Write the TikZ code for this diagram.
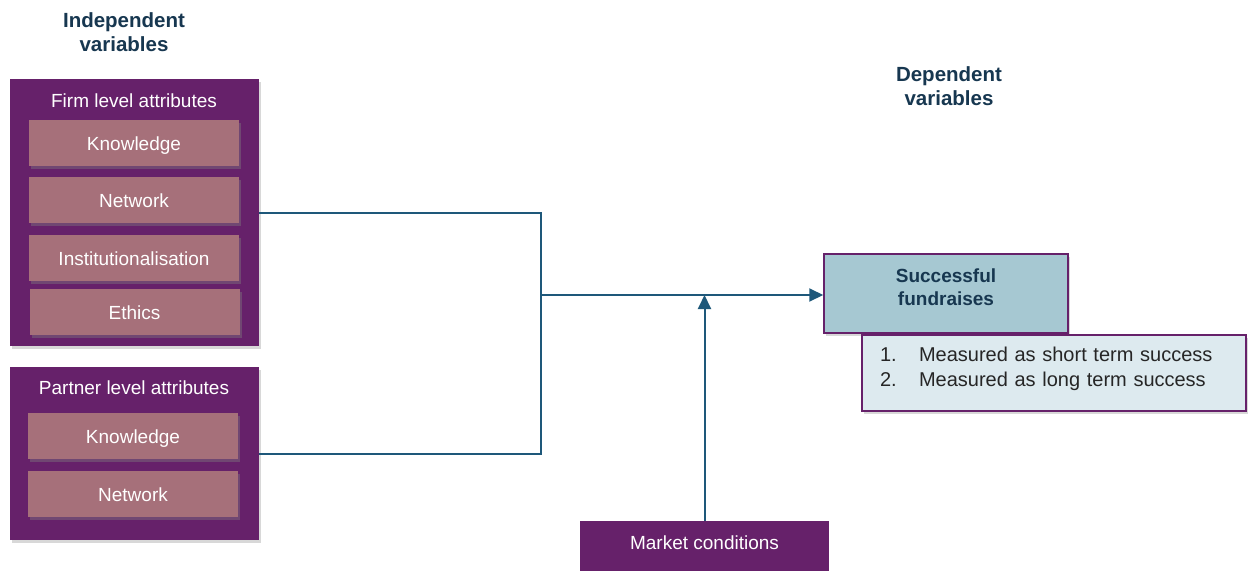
\documentclass[tikz,border=0pt]{standalone}
\usepackage{fontspec}
\setmainfont{Liberation Sans}
\usetikzlibrary{arrows.meta,shadows}
\definecolor{plum}{RGB}{102,33,106}
\definecolor{mauve}{RGB}{166,112,122}
\definecolor{wire}{RGB}{30,88,122}
\definecolor{tealfill}{RGB}{166,200,210}
\definecolor{listfill}{RGB}{221,234,239}
\definecolor{navy}{RGB}{23,55,80}
\tikzset{
  heading/.style={text=navy, font=\fontsize{20.5}{24}\selectfont\bfseries, align=center, inner sep=0pt},
  group/.style={fill=plum, draw=none, inner sep=0pt,
    drop shadow={shadow xshift=2pt, shadow yshift=-3pt, opacity=0.3}},
  item/.style={fill=mauve, draw=none, inner sep=0pt, minimum width=210pt, minimum height=46pt,
    text=white, font=\fontsize{19}{22}\selectfont, text height=15.5pt, text depth=0pt,
    drop shadow={shadow xshift=2pt, shadow yshift=-3pt, opacity=0.4}},
  grouptitle/.style={text=white, font=\fontsize{19}{22}\selectfont, inner sep=0pt},
  wireline/.style={draw=wire, line width=2pt},
  wirearrow/.style={wireline, -{Triangle[length=14pt,width=13pt]}},
}
\begin{document}
\begin{tikzpicture}[x=1pt,y=-1pt]
  \useasboundingbox (0,0) rectangle (1248,571);
  \fill[white] (0,0) rectangle (1248,571);

  % headings
  \node[heading] (indep) at (124,32) {Independent\\variables};
  \node[heading] (dep) at (949,86) {Dependent\\variables};

  % firm level group
  \node[group, minimum width=249pt, minimum height=267pt] (firm) at (134.5,212.5) {};
  \node[grouptitle] (firmtitle) at (134,101) {Firm level attributes};
  \node[item] (fknow) at (134,143) {Knowledge};
  \node[item] (fnet) at (134,200) {Network};
  \node[item] (finst) at (134,258) {Institutionalisation};
  \node[item] (feth) at (134.5,311.5) {Ethics};

  % partner level group
  \node[group, minimum width=249pt, minimum height=173pt] (partner) at (134.5,453.5) {};
  \node[grouptitle] (partnertitle) at (134,388) {Partner level attributes};
  \node[item] (pknow) at (133,436) {Knowledge};
  \node[item] (pnet) at (133,493.5) {Network};

  % outcome
  \node[fill=tealfill, draw=plum, line width=1.5pt, minimum width=244pt, minimum height=79pt,
    inner sep=0pt, text=navy, font=\fontsize{19}{23}\selectfont\bfseries, align=center,
    text depth=12pt, drop shadow={shadow xshift=2pt, shadow yshift=-3pt, opacity=0.3}]
    (succ) at (946,293.5) {Successful\\fundraises};
  \node[fill=listfill, draw=plum, line width=1.5pt, minimum width=384pt, minimum height=76pt,
    inner xsep=18pt, inner ysep=0pt, text width=348pt,
    drop shadow={shadow xshift=2pt, shadow yshift=-3pt, opacity=0.3},
    font=\fontsize{20}{25}\selectfont, text=black!85, align=left, text depth=38pt]
    (measures) at (1054,373) {\makebox[39pt][l]{1.}Measured as short term success\\
      \makebox[39pt][l]{2.}Measured as long term success};

  % moderator
  \node[fill=plum, inner sep=0pt, minimum width=249pt, minimum height=50pt,
    text=white, font=\fontsize{19}{22}\selectfont, text height=15.5pt, text depth=0pt]
    (market) at (704.5,546) {\raisebox{4pt}{Market conditions}};

  % connectors
  \coordinate (join) at (541,295);
  \draw[wireline] (firm.east) -| (join) |- (partner.east);
  \draw[wirearrow] (join) -- (succ.west |- join);
  \draw[wirearrow] (market.north) -- (market.north |- join);
\end{tikzpicture}
\end{document}
